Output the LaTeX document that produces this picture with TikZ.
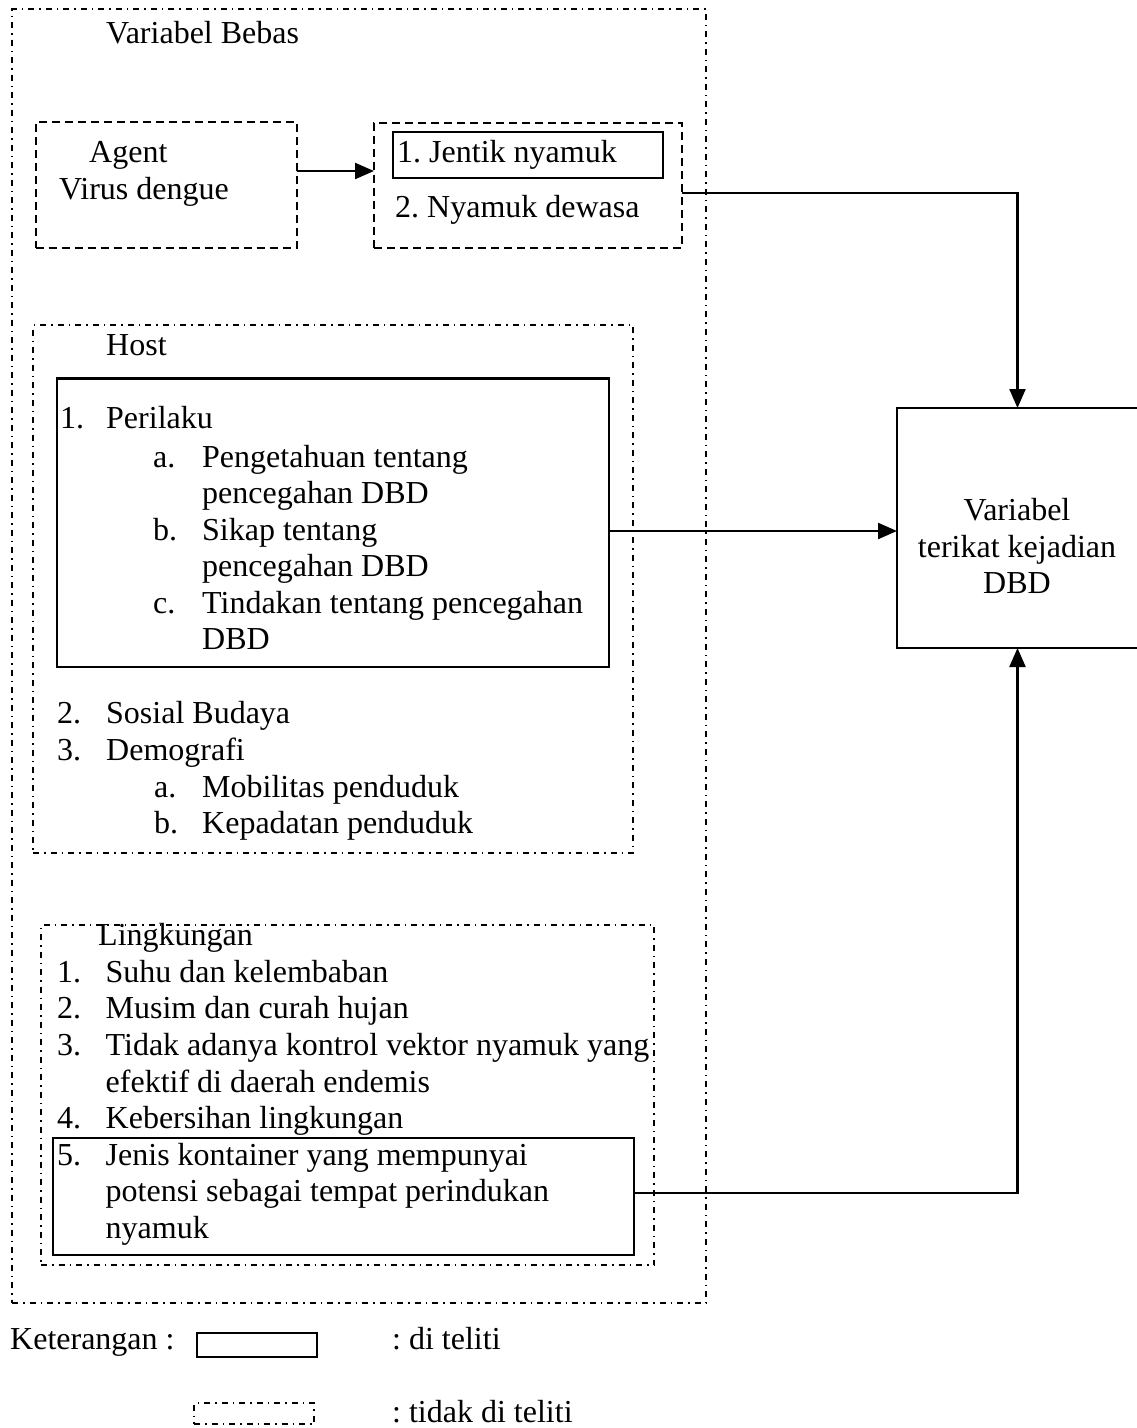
\documentclass[tikz,border=0pt]{standalone}
\usepackage{fontspec}
\setmainfont{Liberation Serif}
\usetikzlibrary{arrows.meta}
\frenchspacing
\begin{document}
\begin{tikzpicture}[x=1pt,y=-1pt,
  txt/.style={anchor=base west, inner sep=0pt, font=\fontsize{32}{37}\selectfont},
  ctxt/.style={anchor=base, inner sep=0pt, font=\fontsize{32}{37}\selectfont},
  dashdotline/.style={draw, line width=1.8pt, dash pattern=on 6pt off 5pt on 1.5pt off 5pt},
  dashline/.style={draw, line width=1.9pt, dash pattern=on 8pt off 5pt},
  solidbox/.style={draw, line width=2.4pt},
  box/.style={inner sep=0pt, outer sep=0pt, anchor=north west},
  arr/.style={line width=2.2pt, -{Triangle[length=19pt,width=16pt]}},
  link/.style={line width=2.2pt}]
\useasboundingbox (0,0) rectangle (1136,1428);

% boxes
\node[box, dashdotline, minimum width=694pt, minimum height=1294pt] (frame) at (12,9) {};
\node[box, dashline, minimum width=261pt, minimum height=126pt] (agent) at (35.7,122.3) {};
\node[box, dashline, minimum width=308pt, minimum height=125pt] (vec) at (374,122.7) {};
\node[box, solidbox, minimum width=270pt, minimum height=46pt] (jentik) at (392.7,131.7) {};
\node[box, dashdotline, minimum width=600pt, minimum height=528pt] (host) at (33,325) {};
\node[box, solidbox, minimum width=552pt, minimum height=288.5pt] (perilaku) at (57,378.5) {};
\node[box, dashdotline, minimum width=613pt, minimum height=340pt] (ling) at (41,925) {};
\node[box, solidbox, minimum width=581pt, minimum height=117pt] (container) at (53,1138) {};
\node[box, solidbox, minimum width=245pt, minimum height=240pt] (dbd) at (897,408) {};
\node[box, solidbox, minimum width=120pt, minimum height=24pt] (leg1) at (197,1333) {};
\node[box, dashdotline, minimum width=120pt, minimum height=21pt] (leg2) at (194,1403) {};

% texts
\foreach \n/\x/\y/\t in {
  tvb/106/43/Variabel Bebas,
  tag1/89/162/Agent,
  tag2/59/199/Virus dengue,
  tj1/397/162/1. Jentik nyamuk,
  tj2/395/217/2. Nyamuk dewasa,
  thost/106/355/Host,
  tp1n/60/428/1.,
  tp1/106/428/Perilaku,
  tpan/153/467/a.,
  tpa1/202/467/Pengetahuan tentang,
  tpa2/202/503/pencegahan DBD,
  tpbn/153/540/b.,
  tpb1/202/540/Sikap tentang,
  tpb2/202/576/pencegahan DBD,
  tpcn/153/613/c.,
  tpc1/202/613/Tindakan tentang pencegahan,
  tpc2/202/649/DBD,
  th2n/57/723/2.,
  th2/106/723/Sosial Budaya,
  th3n/57/760/3.,
  th3/106/760/Demografi,
  th3an/154/797/a.,
  th3a/202/797/Mobilitas penduduk,
  th3bn/154/833/b.,
  th3b/202/833/Kepadatan penduduk,
  tling/98/945/Lingkungan,
  tl1n/57/982/1.,
  tl1/105.5/982/Suhu dan kelembaban,
  tl2n/57/1018/2.,
  tl2/105.5/1018/Musim dan curah hujan,
  tl3n/57/1055/3.,
  tl3a/105.5/1055/Tidak adanya kontrol vektor nyamuk yang,
  tl3b/105.5/1092/efektif di daerah endemis,
  tl4n/57/1128/4.,
  tl4/105.5/1128/Kebersihan lingkungan,
  tl5n/57/1165/5.,
  tl5a/105.5/1165/Jenis kontainer yang mempunyai,
  tl5b/105.5/1201/potensi sebagai tempat perindukan,
  tl5c/105.5/1238/nyamuk,
  tket/10/1349/Keterangan :,
  tleg1/392/1349/: di teliti,
  tleg2/392/1422/: tidak di teliti}
  \node[txt] (\n) at (\x,\y) {\t};

\node[ctxt] (td1) at (1017,520) {Variabel};
\node[ctxt] (td2) at (1017,557) {terikat kejadian};
\node[ctxt] (td3) at (1017,593) {DBD};

% connectors
\coordinate (ya) at (0,171);
\coordinate (yb) at (0,193);
\coordinate (yc) at (0,531);
\coordinate (yd) at (0,1193);
\draw[arr] (agent.east |- ya) -- (vec.west |- ya);
\draw[arr] (vec.east |- yb) -| ([xshift=-2pt]dbd.north);
\draw[arr] (perilaku.east |- yc) -- (dbd.west |- yc);
\draw[arr] (container.east |- yd) -| ([xshift=-2pt]dbd.south);
\end{tikzpicture}
\end{document}
